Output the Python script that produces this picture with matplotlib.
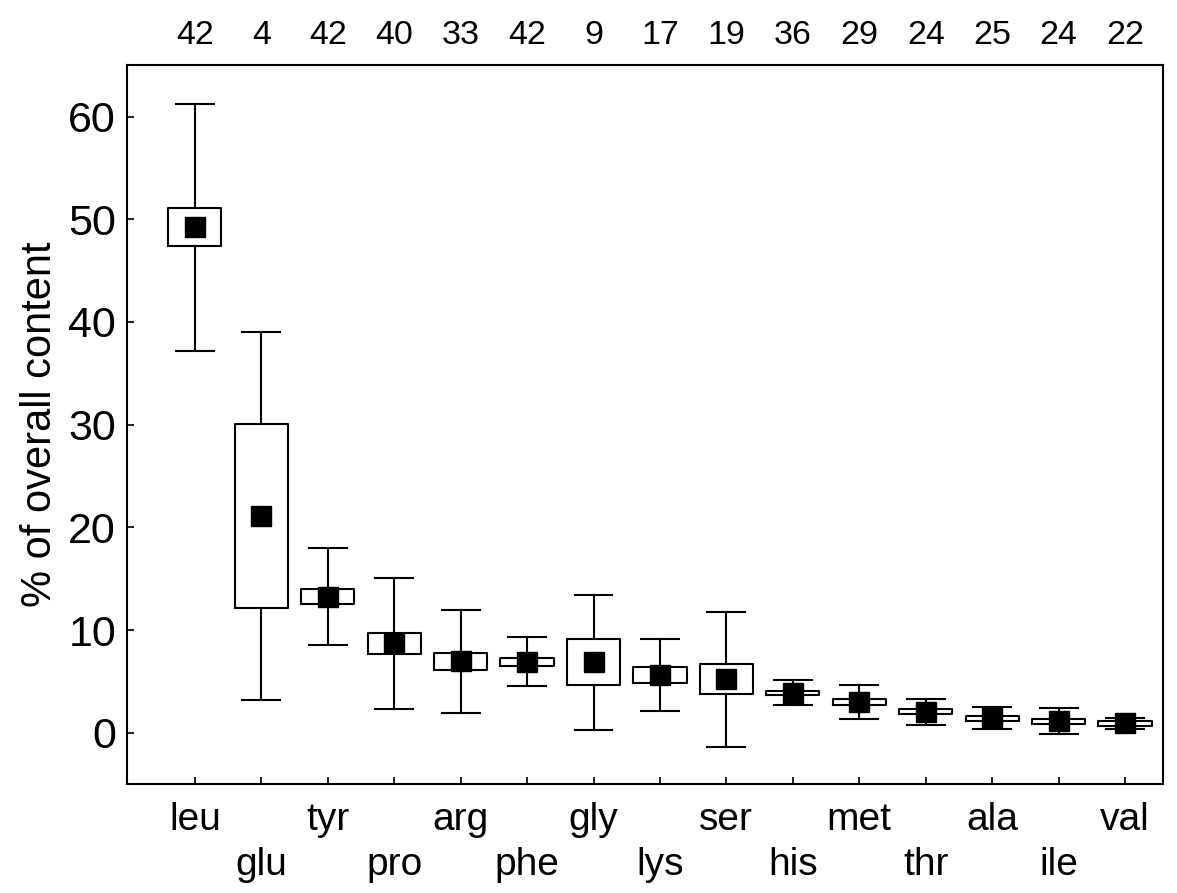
import matplotlib.pyplot as plt
import matplotlib.transforms as mtransforms
import numpy as np

plt.rcParams['font.family'] = ['Liberation Sans', 'DejaVu Sans']

# Amino acids, sample counts, means, standard errors and standard deviations
amino = ['leu', 'glu', 'tyr', 'pro', 'arg', 'phe', 'gly', 'lys',
         'ser', 'his', 'met', 'thr', 'ala', 'ile', 'val']
counts = [42, 4, 42, 40, 33, 42, 9, 17, 19, 36, 29, 24, 25, 24, 22]
means = [49.2, 21.1, 13.25, 8.7, 6.95, 6.9, 6.85, 5.6,
         5.2, 3.9, 3.0, 2.03, 1.42, 1.12, 0.9]
se = [1.85, 9.0, 0.75, 1.05, 0.85, 0.37, 2.23, 0.8,
      1.47, 0.18, 0.3, 0.24, 0.25, 0.23, 0.2]
sd = [12.0, 17.9, 4.7, 6.4, 5.0, 2.38, 6.6, 3.5,
      6.6, 1.2, 1.63, 1.27, 1.1, 1.25, 0.52]

stats = []
for m, s, d in zip(means, se, sd):
    stats.append(dict(med=m, mean=m, q1=m - s, q3=m + s,
                      whislo=m - d, whishi=m + d, fliers=[]))

fig = plt.figure(figsize=(11.77, 8.93), dpi=100)
ax = fig.add_axes([0.108, 0.122, 0.880, 0.805])

pos = np.arange(1, len(amino) + 1)
lw = 1.5
ax.bxp(stats, positions=pos, widths=0.8, capwidths=0.57,
       showmeans=True, showfliers=False,
       boxprops=dict(color='black', linewidth=lw),
       whiskerprops=dict(color='black', linewidth=lw),
       capprops=dict(color='black', linewidth=lw),
       medianprops=dict(linewidth=0),
       meanprops=dict(marker='s', markerfacecolor='black',
                      markeredgecolor='black', markersize=14.5))

ax.set_xlim(-0.02, 15.57)
ax.set_ylim(-5, 65)
ax.set_yticks([0, 10, 20, 30, 40, 50, 60])

# alternate the labels on two rows
labels = [a if i % 2 == 0 else '\n' + a for i, a in enumerate(amino)]
ax.set_xticks(pos)
ax.set_xticklabels(labels, fontsize=28, linespacing=1.33)
ax.tick_params(axis='x', direction='in', length=5, width=1.2, pad=13)
ax.tick_params(axis='y', direction='in', length=5, width=1.2, pad=8,
               labelsize=31)
ax.set_ylabel('% of overall content', fontsize=30, labelpad=6)

for sp in ax.spines.values():
    sp.set_linewidth(1.5)

# sample sizes above the plot
trans = mtransforms.blended_transform_factory(ax.transData, ax.transAxes)
for x, n in zip(pos, counts):
    ax.text(x, 1.029, str(n), transform=trans, ha='center', va='baseline',
            fontsize=24.5)

fig.savefig('out.png', dpi=100)
